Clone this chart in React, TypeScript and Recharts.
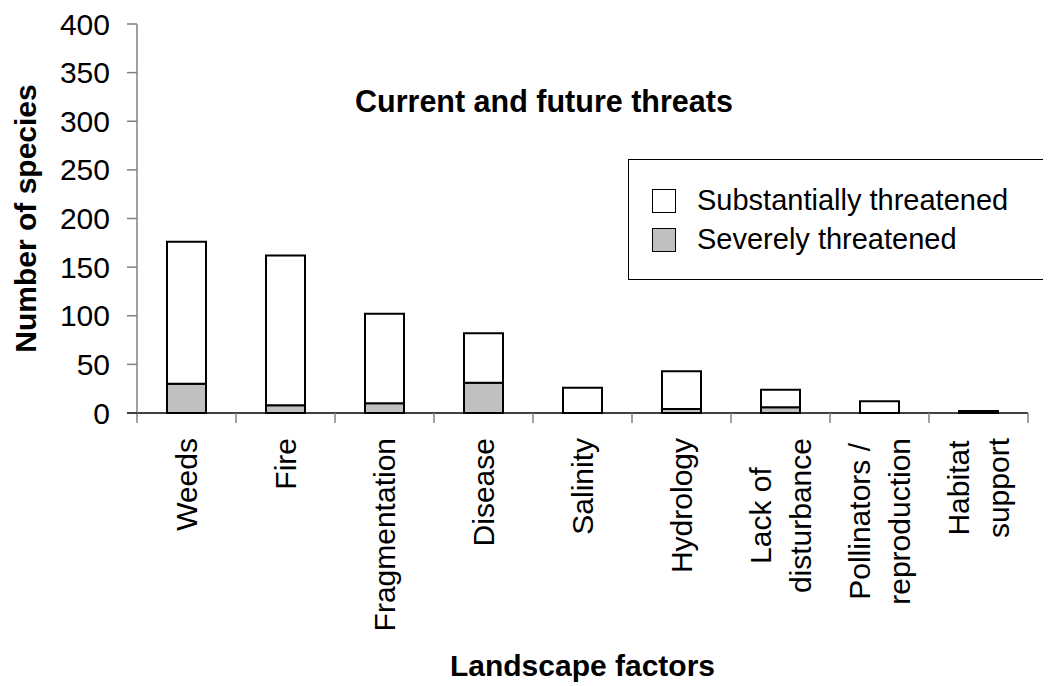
import { BarChart, Bar, XAxis, YAxis, Legend } from "recharts";

const categories = [
  "Weeds",
  "Fire",
  "Fragmentation",
  "Disease",
  "Salinity",
  "Hydrology",
  "Lack of\ndisturbance",
  "Pollinators /\nreproduction",
  "Habitat\nsupport",
];

// stacked: severe at the bottom, the rest of the substantially threatened on top
const severe = [30, 8, 10, 31, 0, 4, 6, 0, 0];
const substantial = [146, 154, 92, 51, 26, 39, 18, 12, 2];

const yTicks = [0, 50, 100, 150, 200, 250, 300, 350, 400];

const legendItems = [
  { name: "Substantially threatened", fill: "#ffffff" },
  { name: "Severely threatened", fill: "#c0c0c0" },
];

const data = categories.map((name, i) => ({
  name,
  severe: severe[i],
  substantial: substantial[i],
}));

const FONT = "'Liberation Sans', Arial, sans-serif";
const W = 1043;
const H = 678;
const MARGIN = { top: 16, right: 23, bottom: 0, left: 0 };
const Y_W = 129;
const X_H = 273;
const PLOT_W = W - Y_W - MARGIN.right;
const BAND = PLOT_W / categories.length;

let ctx: CanvasRenderingContext2D | null = null;
function textWidth(s: string) {
  if (!ctx) {
    ctx = document.createElement("canvas").getContext("2d");
  }
  if (!ctx) return s.length * 15;
  ctx.font = `30px ${FONT}`;
  return ctx.measureText(s).width;
}

function XTick(props: any) {
  const { x, y, payload } = props;
  const idx = props.index ?? payload.index;
  const lines = String(payload.value).split("\n");
  const maxW = Math.max(...lines.map(textWidth));
  const cy = y + 25 + maxW / 2;
  const half = BAND / 2;
  return (
    <g>
      <line x1={x - half} x2={x - half} y1={y} y2={y + 10} stroke="#808080" strokeWidth={1.5} />
      {idx === categories.length - 1 && (
        <line x1={x + half} x2={x + half} y1={y} y2={y + 10} stroke="#808080" strokeWidth={1.5} />
      )}
      {lines.map((ln, i) => {
        const lx = x + (i - (lines.length - 1) / 2) * 40;
        return (
          <text
            key={i}
            x={lx}
            y={cy}
            dy="0.35em"
            textAnchor="middle"
            transform={`rotate(-90 ${lx} ${cy})`}
            fontSize={30}
            fontFamily={FONT}
            fill="#000"
          >
            {ln}
          </text>
        );
      })}
    </g>
  );
}

function YTick(props: any) {
  const { x, y, payload } = props;
  const v = payload.value;
  return (
    <g>
      <line
        x1={Y_W - 10}
        x2={Y_W}
        y1={y}
        y2={y}
        stroke={v === 0 ? "#000" : "#808080"}
        strokeWidth={1.5}
      />
      <text x={x} y={y} dy="0.35em" textAnchor="end" fontSize={30} fontFamily={FONT} fill="#000">
        {v}
      </text>
    </g>
  );
}

function LegendBox() {
  return (
    <div
      style={{
        boxSizing: "border-box",
        width: 423,
        height: 121,
        border: "1.5px solid #000",
        borderRight: "none",
        background: "#fff",
        paddingTop: 21,
        fontFamily: FONT,
        fontSize: 29,
        color: "#000",
      }}
    >
      {legendItems.map((it) => (
        <div key={it.name} style={{ display: "flex", alignItems: "center", height: 39 }}>
          <div
            style={{
              boxSizing: "border-box",
              width: 24,
              height: 24,
              marginLeft: 23,
              marginRight: 21,
              border: "1.5px solid #000",
              background: it.fill,
            }}
          />
          <span style={{ lineHeight: "39px" }}>{it.name}</span>
        </div>
      ))}
    </div>
  );
}

export default function App() {
  const plotTop = MARGIN.top;
  const plotBottom = H - X_H;
  return (
    <div style={{ position: "relative", width: W, height: H }}>
      <BarChart width={W} height={H} data={data} margin={MARGIN} barSize={39}>
        <XAxis
          dataKey="name"
          interval={0}
          height={X_H}
          tickSize={0}
          tickMargin={0}
          tickLine={false}
          axisLine={{ stroke: "#000", strokeWidth: 1.5 }}
          tick={<XTick />}
        />
        <YAxis
          width={Y_W}
          domain={[0, 400]}
          ticks={yTicks}
          interval={0}
          tickSize={10}
          tickMargin={17}
          axisLine={{ stroke: "#808080", strokeWidth: 1.5 }}
          tickLine={false}
          tick={<YTick />}
        />
        <Legend
          layout="horizontal"
          verticalAlign="middle"
          align="center"
          wrapperStyle={{ left: 620, top: 151, width: 423, height: 121 }}
          content={() => <LegendBox />}
        />
        <Bar
          dataKey="severe"
          name="Severely threatened"
          stackId="a"
          fill="#c0c0c0"
          stroke="#000"
          strokeWidth={2}
          isAnimationActive={false}
        />
        <Bar
          dataKey="substantial"
          name="Substantially threatened"
          stackId="a"
          fill="#ffffff"
          stroke="#000"
          strokeWidth={2}
          isAnimationActive={false}
        />
      </BarChart>
      <svg
        width={W}
        height={H}
        style={{ position: "absolute", left: 0, top: 0, pointerEvents: "none" }}
      >
        <text x={347} y={104} fontSize={30.5} fontWeight="bold" fontFamily={FONT} fill="#000">
          Current and future threats
        </text>
        <text
          x={17}
          y={(plotTop + plotBottom) / 2}
          dy="0.35em"
          textAnchor="middle"
          transform={`rotate(-90 17 ${(plotTop + plotBottom) / 2})`}
          fontSize={30}
          fontWeight="bold"
          fontFamily={FONT}
          fill="#000"
        >
          Number of species
        </text>
        <text
          x={Y_W + PLOT_W / 2}
          y={668}
          textAnchor="middle"
          fontSize={30}
          fontWeight="bold"
          fontFamily={FONT}
          fill="#000"
        >
          Landscape factors
        </text>
      </svg>
    </div>
  );
}
